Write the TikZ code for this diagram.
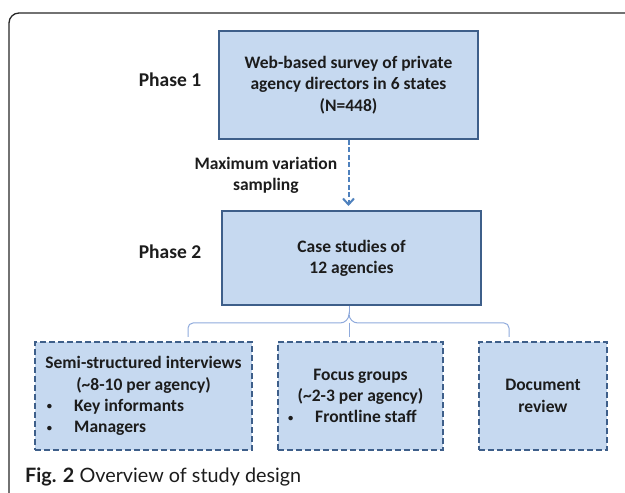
\documentclass[tikz,border=0pt]{standalone}
\usepackage{fontspec}
\setmainfont{Carlito}
\newfontfamily\capfont{Lato}
\usetikzlibrary{arrows.meta,calc}
\definecolor{boxfill}{HTML}{C6D9F0}
\definecolor{boxline}{HTML}{3E5F8A}
\definecolor{arrowblue}{HTML}{4F81BD}
\definecolor{bracecol}{HTML}{8FAADC}
\definecolor{inkcol}{HTML}{1C1C1C}
\tikzset{
  >={Straight Barb[length=6pt,width=11pt]},
  stage/.style = {draw=boxline, line width=2pt, fill=boxfill, align=center,
                  text=inkcol, inner sep=0,
                  font=\bfseries\fontsize{17.5}{21.3}\selectfont},
  method/.style = {stage, dash pattern=on 6pt off 3pt},
  phase/.style = {text=inkcol, font=\bfseries\fontsize{19.5}{22}\selectfont},
  link/.style = {draw=arrowblue, line width=2pt, dash pattern=on 5pt off 2.5pt},
  tree/.style = {draw=bracecol, line width=1pt},
}
\newcommand{\itemline}[2]{\makebox[#1][l]{\raisebox{1.5pt}{\scalebox{0.6}{\textbullet}}\hspace{22pt}#2}}

\begin{document}
\begin{tikzpicture}[x=1pt,y=1pt]
\useasboundingbox (0,0) rectangle (625,493);
% outer frame
\begin{scope}
\clip (0,0) rectangle (625,493);
\draw[line width=1.3pt, black!85] (9,-5) -- (9,470) arc (180:90:10) -- (630,480);
\end{scope}

\node[stage, minimum width=259pt, minimum height=108pt] (survey) at (348.5,408)
  {Web-based survey of private\\agency directors in 6 states\\(N=448)};
\node[stage, minimum width=259pt, minimum height=94pt] (case) at (351.5,235)
  {Case studies of\\12 agencies};
\node[method, minimum width=217pt, minimum height=108pt] (interviews) at (143.5,97)
  {Semi-structured interviews\\(\textasciitilde8-10 per agency)\\
   \itemline{193pt}{Key informants}\\\itemline{193pt}{Managers}};
\node[method, minimum width=165pt, minimum height=108pt] (focus) at (360.5,97)
  {Focus groups\\(\textasciitilde2-3 per agency)\\\itemline{145pt}{Frontline staff}};
\node[method, minimum width=128pt, minimum height=108pt] (review) at (543,97)
  {Document\\review};

\node[phase] (p1) at (170,413) {Phase 1};
\node[phase] (p2) at (170,241) {Phase 2};

% sampling arrow
\draw[link,->,shorten >=4pt] (survey.south) -- (survey.south |- case.north)
  node[midway, left=7pt, align=center, text=inkcol,
       font=\bfseries\fontsize{17.5}{21}\selectfont] (samp) {Maximum variation\\sampling};

% bracket to the three methods
\coordinate (peak) at ($(case.south)+(-2.5,-8)$);
\coordinate (bar) at ($(case.south)+(-2.5,-17)$);
\coordinate (legA) at ($(interviews.north)+(44.5,4)$);
\coordinate (legB) at (peak |- legA);
\coordinate (legC) at ($(review.north)+(-34,4)$);
\draw[tree] (peak |- case.south) -- (peak);
\draw[tree] (legA) -- ([yshift=-5pt]legA |- bar) to[out=90,in=180] ([xshift=5pt]legA |- bar)
  -- ([xshift=-9pt]bar) to[out=0,in=-90] (peak) to[out=-90,in=180] ([xshift=9pt]bar)
  -- ([xshift=-5pt]legC |- bar) to[out=0,in=90] ([yshift=-5pt]legC |- bar) -- (legC);
\draw[tree] (bar) -- (legB);

% caption
\node[anchor=west, inner sep=0, text=inkcol, font=\capfont\fontsize{19.8}{22}\selectfont]
  (cap) at (25,16) {\textbf{Fig. 2} Overview of study design};
\end{tikzpicture}
\end{document}
